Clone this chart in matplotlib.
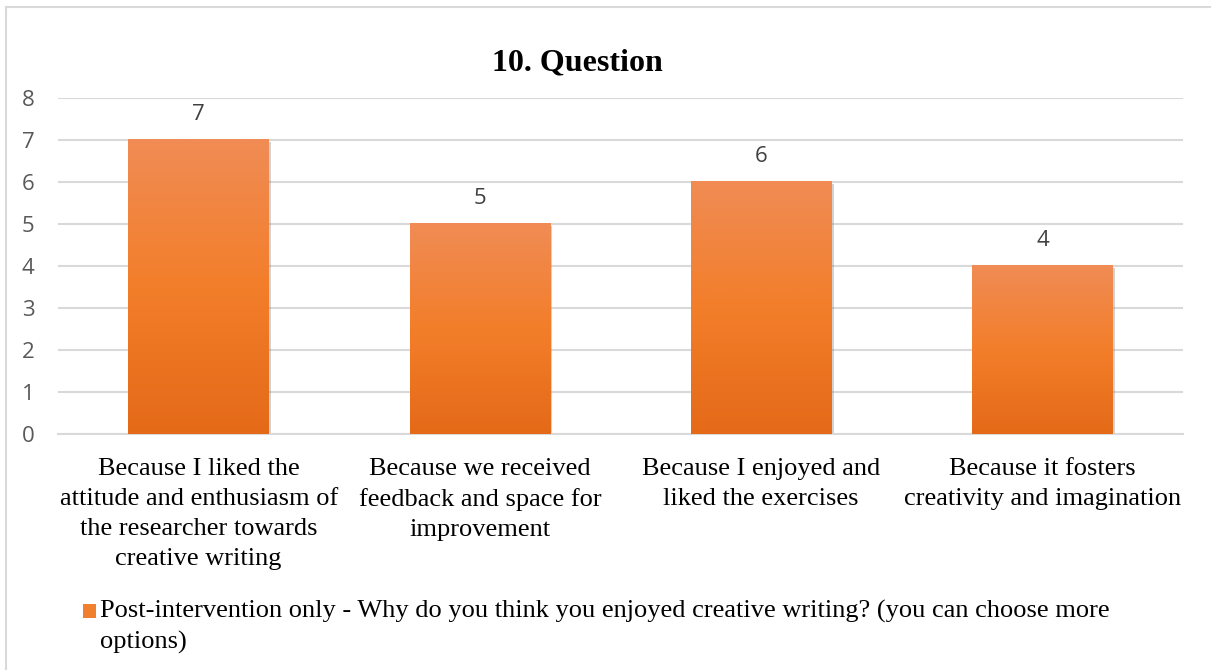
import numpy as np
import matplotlib
matplotlib.use("Agg")
import matplotlib.pyplot as plt
from matplotlib.colors import LinearSegmentedColormap
from matplotlib.patches import Rectangle
from matplotlib.lines import Line2D
import matplotlib.patheffects as pe

# survey answers and counts
categories = [
    "Because I liked the\nattitude and enthusiasm of\nthe researcher towards\ncreative writing",
    "Because we received\nfeedback and space for\nimprovement",
    "Because I enjoyed and\nliked the exercises",
    "Because it fosters\ncreativity and imagination",
]
counts = [7, 5, 6, 4]
y_ticks = [0, 1, 2, 3, 4, 5, 6, 7, 8]
title = "10. Question"
series_name = ("Post-intervention only - Why do you think you enjoyed creative writing? "
               "(you can choose more\noptions)")

SERIF = ["Liberation Serif", "DejaVu Serif"]
SANS = ["Open Sans", "DejaVu Sans"]

# orange gradient, darker at the bottom of each bar
orange = LinearSegmentedColormap.from_list(
    "orange_grad", ["#e46a18", "#f37e2a", "#f08c55"])

fig = plt.figure(figsize=(12.11, 6.70), dpi=100)
ax = fig.add_axes([0.0479, 0.3522, 0.929, 0.5015])

x = np.arange(len(categories))
bars = ax.bar(x, counts, width=0.5, color="none", zorder=3)

grad = np.linspace(0, 1, 256).reshape(-1, 1)
for b in bars:
    x0, w, h = b.get_x(), b.get_width(), b.get_height()
    # soft drop shadow behind the bar
    sh = Rectangle((x0, 0), w, h, facecolor="white", edgecolor="none", zorder=2.5)
    sh.set_path_effects([pe.SimplePatchShadow(offset=(1.5, -1.5), shadow_rgbFace="#7f7f7f", alpha=0.35)])
    ax.add_patch(sh)
    ax.imshow(grad, cmap=orange, origin="lower", aspect="auto",
              extent=(x0, x0 + w, 0, h), zorder=3, interpolation="bilinear")

for xi, v in zip(x, counts):
    ax.text(xi, v + 0.36, str(v), ha="center", va="bottom",
            fontsize=16, color="#404040", family=SANS)

ax.set_xlim(-0.5, len(categories) - 0.5)
ax.set_ylim(0, 8)
ax.set_yticks(y_ticks)
ax.set_yticklabels([str(t) for t in y_ticks], family=SANS, fontsize=16, color="#595959")
ax.set_xticks(x)
ax.set_xticklabels(categories, family=SERIF, fontsize=19, color="#000000",
                   linespacing=1.47)
ax.tick_params(axis="both", length=0)
ax.tick_params(axis="y", pad=17)
ax.tick_params(axis="x", pad=17)

ax.grid(axis="y", color="#d9d9d9", linewidth=1.5, zorder=0)
ax.set_axisbelow(True)
for s in ["top", "right", "left"]:
    ax.spines[s].set_visible(False)
ax.spines["bottom"].set_color("#d9d9d9")
ax.spines["bottom"].set_linewidth(1.5)

fig.text(0.477, 1 - 63 / 670, title, ha="center", va="center",
         fontsize=23, fontweight="bold", family=SERIF)

# legend drawn by hand so the swatch lines up with the first text line
fig.patches.append(Rectangle((83 / 1211, 1 - 618 / 670), 13 / 1211, 14 / 670,
                             transform=fig.transFigure,
                             facecolor="#f07f2e", edgecolor="none"))
fig.text(100 / 1211, 1 - 600 / 670, series_name, ha="left", va="top", fontsize=19,
         family=SERIF, linespacing=1.45)

# chart frame
fig.add_artist(Line2D([6 / 1211, 6 / 1211], [0, 1 - 7 / 670], color="#d9d9d9", lw=1.5,
                      transform=fig.transFigure))
fig.add_artist(Line2D([6 / 1211, 1], [1 - 7 / 670, 1 - 7 / 670], color="#d9d9d9", lw=1.5,
                      transform=fig.transFigure))

fig.savefig("out.png", dpi=100)
